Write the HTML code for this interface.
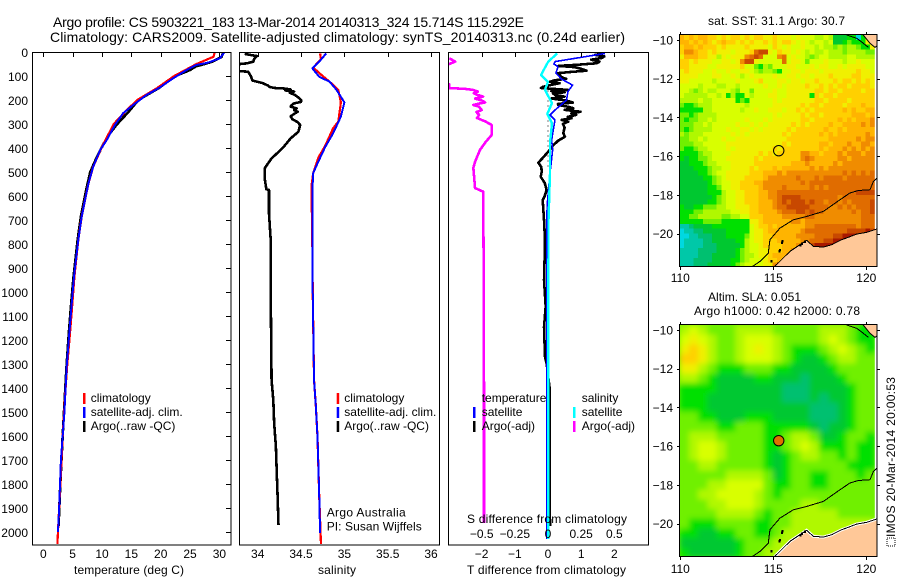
<!DOCTYPE html>
<html lang="en">
<head>
<meta charset="utf-8">
<title>Argo profile CS 5903221_183</title>
<style>
html,body{margin:0;padding:0;background:#fff;}
svg{display:block;}
text{font-family:"Liberation Sans",sans-serif;font-size:12px;fill:#000;}
.t14{font-size:14px;}
.frame{fill:none;stroke:#000;stroke-width:1;shape-rendering:crispEdges;}
</style>
</head>
<body>
<svg id="fig" xmlns="http://www.w3.org/2000/svg" width="900" height="580" viewBox="0 0 900 580">
<defs>
<clipPath id="c1"><rect x="33" y="52" width="198" height="493"/></clipPath>
<clipPath id="c2"><rect x="240" y="52" width="199" height="493"/></clipPath>
<clipPath id="c3"><rect x="449" y="52" width="199" height="493"/></clipPath>
<clipPath id="m1"><rect x="680" y="35" width="197" height="232"/></clipPath>
<clipPath id="m2"><rect x="680" y="325" width="197" height="232"/></clipPath>
<filter id="soft" x="-5%" y="-5%" width="110%" height="110%"><feGaussianBlur stdDeviation="3"/></filter>
</defs>
<g id="p1"></g>
<g id="p2"></g>
<g id="p3"></g>
<g id="m1g"></g>
<g id="m2g"></g>
<g id="labels">
<text class="t14" x="53" y="27" textLength="471">Argo profile: CS 5903221_183 13-Mar-2014 20140313_324 15.714S 115.292E</text>
<text class="t14" x="50" y="42" textLength="575">Climatology: CARS2009. Satellite-adjusted climatology: synTS_20140313.nc (0.24d earlier)</text>
<text x="74" y="574" textLength="110">temperature (deg C)</text>
<text x="318" y="574" textLength="38">salinity</text>
<text x="467" y="574" textLength="159">T difference from climatology</text>
<text x="467" y="523" textLength="160">S difference from climatology</text>
<text x="326.7" y="516.7" textLength="79">Argo Australia</text>
<text x="326.7" y="530.7" textLength="95">PI: Susan Wijffels</text>
<text x="708" y="25" textLength="137">sat. SST: 31.1 Argo: 30.7</text>
<text x="708" y="301" textLength="93">Altim. SLA: 0.051</text>
<text x="694" y="315" textLength="166">Argo h1000: 0.42 h2000: 0.78</text>
<text transform="translate(895,537) rotate(-90)" textLength="160">IMOS 20-Mar-2014 20:00:53</text>
<rect x="887" y="538" width="8" height="8" fill="none" stroke="#000" stroke-width="1" stroke-dasharray="1 1"/>
</g>
</svg>
<script>
/* ---------- profile data: depths (m) and values ---------- */
const depthTicks = [0,100,200,300,400,500,600,700,800,900,1000,1100,1200,1300,1400,1500,1600,1700,1800,1900,2000];
const tempTicks = [0,5,10,15,20,25,30];
const salTicks = ["34","34.5","35","35.5","36"];
const tDiffTicks = [-2,-1,0,1,2];
const sDiffTicks = ["-0.5","-0.25","0","0.25","0.5"];

const tempArgoDepth = [3,20,40,50,60,75,100,150,200,250,300,350,400,450,500,575,686,783,936,1047,1171,1312,1400,1600,1800,1975];
const tempArgo = [30.6,30.4,28.8,27.5,26,25,22.5,19.7,16.2,14.5,12.6,11,9.9,8.9,8,7.3,6.4,5.85,5.15,4.75,4.35,3.95,3.75,3.3,2.9,2.6];
const tempClimDepth = [0,20,30,50,75,100,150,200,250,300,400,478,547,617,686,783,936,1047,1171,1312,1400,1600,1800,2000,2050];
const tempClim = [29.2,29,28,26.1,24.2,22.3,19.4,16,13.9,12,9.9,8.5,7.7,7.1,6.54,5.96,5.3,4.95,4.55,4.05,3.8,3.3,2.9,2.5,2.4];
const tempSatDepth = [3,26,44,54,75,110,147,179,221,255,304,367,408,478,547,617,686,783,936,1047,1171,1312,1400,1500,1600,1700,1800,1900,2000];
const tempSat = [30.8,30.1,28.1,26.1,24.4,22.1,19.9,17.6,15.3,13.6,12.2,10.8,9.7,8.5,7.7,7.1,6.54,5.96,5.23,4.84,4.43,3.98,3.8,3.6,3.3,3.0,2.85,2.7,2.5];

const salArgoDepth = [8,17,28,40,47,54,60,72,78,82,100,119,130,140,146,150,152,156,160,165,170,179,190,200,208,214,222,228,235,242,249,258,268,280,292,304,332,360,395,420,443,485,526,572,575,671,783,1000,1367,1450,1547,1645,1754,1854,1971];
const salArgo = [33.85,33.99,33.96,33.95,33.88,33.7,33.7,33.7,33.7,33.89,33.92,33.94,34.06,34.12,34.14,34.2,34.3,34.38,34.32,34.42,34.37,34.43,34.47,34.5,34.5,34.42,34.39,34.38,34.45,34.42,34.46,34.42,34.38,34.4,34.46,34.49,34.47,34.38,34.3,34.23,34.16,34.08,34.08,34.1,34.13,34.13,34.15,34.15,34.16,34.18,34.19,34.21,34.22,34.23,34.24];
const salClimDepth = [6,30,65,100,124,158,210,290,318,390,440,505,560,783,1000,1367,1470,1603,1728,1853,2050];
const salClim = [34.72,34.73,34.64,34.75,34.83,34.93,34.96,34.93,34.87,34.78,34.7,34.64,34.62,34.63,34.635,34.65,34.67,34.69,34.7,34.71,34.73];
const salSatDepth = [6,36,68,103,124,158,210,269,339,395,464,505,588,783,1000,1367,1470,1603,1728,1853,2004];
const salSat = [34.79,34.72,34.63,34.71,34.83,34.91,35,34.96,34.87,34.78,34.69,34.64,34.63,34.63,34.635,34.65,34.67,34.69,34.7,34.71,34.72];

const tDiffArgoDepth = [6,12,18,25,32,40,47,53,58,63,70,78,83,88,95,105,112,118,124,130,137,145,150,154,158,163,168,172,179,186,194,202,211,216,221,228,234,241,249,256,262,270,276,283,290,300,315,338,353,370,390,415,440,461,480,499,520,545,575,600,617,700,783,850,950,1060,1146,1270,1300,1400,1700,1975];
const tDiffArgo = [1.66,1.42,1.7,1.62,1.3,1.55,1.47,0.9,0.31,0.8,1.0,1.16,0.7,0.31,0.35,0.41,0.55,0.2,0.06,0.35,0.1,-0.15,-0.21,0.2,0.6,0.1,0.5,0.15,0.21,0.5,0.1,0.55,0.75,0.3,0.31,0.6,0.76,0.5,0.98,0.7,0.85,0.6,0.71,0.41,0.61,0.45,0.5,0.46,0.51,0.3,0.15,0.01,-0.15,-0.29,-0.2,-0.19,-0.22,-0.1,-0.04,-0.1,-0.16,-0.12,-0.09,-0.1,-0.12,-0.07,-0.12,-0.09,-0.04,0.05,0.05,0.06];
const tDiffSatDepth = [6,40,50,61,88,113,138,165,200,242,262,283,367,408,505,629,700,1000,1500,2030];
const tDiffSat = [1.72,0.21,0.18,0.3,0.24,0.41,0.74,0.6,0.56,0.21,0.06,0.21,0.11,0.14,0.06,-0.02,-0.04,-0.04,-0.04,-0.04];
const sDiffSatDepth = [6,40,96,124,158,213,258,296,380,505,700,1000,1500,2030];
const sDiffSat = [0.07,0.002,-0.053,0,-0.023,0.03,-0.005,0.03,0.015,0.015,0.004,0.003,0.003,0.003];
const sDiffArgoDepth = [26,40,50,55,125,135,150,154,158,165,172,179,186,194,202,210,216,221,228,242,250,262,275,290,304,346,375,408,457,483,567,582,692,1000,1400,1962];
const sDiffArgo = [-0.744,-0.7,-0.744,-0.85,-0.85,-0.744,-0.744,-0.62,-0.566,-0.53,-0.56,-0.53,-0.49,-0.55,-0.5,-0.475,-0.53,-0.563,-0.52,-0.5,-0.54,-0.52,-0.535,-0.47,-0.425,-0.425,-0.47,-0.513,-0.55,-0.563,-0.55,-0.488,-0.488,-0.483,-0.483,-0.483];
const dotDepth = [160,180,200,220,240,260,280,300,320,340,360,380,400,420,440,460,480];
const dotDiff = [0,0,0,0,0,0,0,0,0,0,0,0,0,0,0,0,0];

/* ---------- map data: colour level per cell (row = north to south) ---------- */
const sstLevels = [
[11,10,11,10,11,11,10,10,9,10,9,10,10,9,10,9,10,10,9,9,10,9,9,9,8,9,8,8,8,7,7,8,7,4,4,4,5,5,1,5,9,9],
[11,11,10,11,10,11,10,9,10,11,10,10,9,10,9,10,9,9,10,9,10,9,10,10,9,8,9,8,7,8,8,7,8,4,4,5,6,5,5,5,9,9],
[10,11,11,10,11,10,10,10,9,10,9,9,9,9,10,9,9,9,9,8,10,9,8,9,8,8,9,8,8,7,8,7,7,6,7,6,7,7,6,5,5,9],
[10,12,12,11,10,10,9,10,9,9,9,8,9,9,9,10,13,14,14,9,8,10,9,9,8,9,8,7,8,7,7,8,7,7,7,6,7,7,7,7,6,6],
[9,11,11,11,10,10,9,9,7,9,8,9,9,9,12,13,14,13,8,8,8,12,13,8,9,8,8,7,6,7,8,8,7,7,7,7,8,8,7,7,7,7],
[10,10,9,10,9,9,9,8,8,9,9,8,9,12,14,14,9,8,8,8,8,8,13,8,9,9,8,6,8,8,8,9,8,8,8,7,8,8,9,8,8,8],
[10,10,9,9,9,9,8,8,9,9,9,9,9,10,8,8,6,5,7,6,8,8,8,9,9,8,8,8,9,8,9,9,8,8,9,8,9,9,9,9,8,8],
[9,10,9,9,9,8,8,9,8,8,9,8,8,9,9,8,7,6,7,7,6,5,8,8,9,9,8,9,9,9,8,9,9,9,9,9,9,9,10,9,9,8],
[9,9,9,9,8,8,8,9,9,8,8,9,8,7,8,9,8,8,8,8,9,8,8,9,9,8,9,9,8,9,9,9,10,9,9,9,9,10,10,9,9,9],
[9,9,8,8,8,8,8,7,8,8,8,8,9,8,8,8,9,10,8,8,8,9,9,8,9,9,8,9,9,10,9,9,9,10,9,10,10,9,10,9,10,9],
[8,8,8,8,7,8,8,8,7,7,8,8,7,8,8,8,8,8,9,8,8,9,8,9,9,9,9,10,9,9,10,9,10,9,10,10,9,10,10,10,10,9],
[8,8,7,6,7,8,7,7,8,8,8,7,6,8,8,6,8,8,8,8,9,8,8,9,9,9,9,9,9,10,10,9,10,10,9,10,10,10,10,9,10,10],
[8,7,7,7,7,7,8,8,7,8,5,7,5,5,8,7,8,8,8,9,9,8,8,9,9,9,9,9,5,10,9,10,10,9,10,10,10,10,10,10,10,10],
[7,7,7,7,8,7,7,8,8,8,8,8,5,6,5,8,8,8,8,8,9,8,9,9,9,9,9,9,9,10,10,9,10,10,10,10,9,10,10,10,10,10],
[6,5,5,6,7,7,7,8,8,8,8,8,8,8,7,8,8,8,8,8,9,9,9,9,9,9,10,9,10,10,9,10,10,10,10,9,10,10,10,11,10,10],
[5,5,5,5,5,7,7,8,8,8,8,8,8,7,8,8,9,8,8,9,9,9,8,9,9,10,9,10,9,10,10,10,10,10,10,11,10,11,10,10,11,11],
[6,6,5,6,7,7,7,7,8,8,8,8,8,8,8,8,8,8,8,8,9,8,9,9,9,9,10,9,10,10,9,10,10,10,10,10,10,11,11,11,10,11],
[6,5,6,6,7,7,8,7,8,8,8,8,8,8,9,8,8,8,9,8,9,9,9,9,9,9,10,10,9,10,10,10,10,10,11,10,11,10,11,11,11,12],
[6,6,6,7,7,8,7,8,8,8,8,8,9,8,8,9,8,9,8,9,9,9,9,9,10,9,10,9,10,10,10,10,11,10,10,11,11,11,11,12,11,12],
[6,5,6,7,7,7,7,8,8,8,9,8,8,9,9,8,9,8,9,9,9,9,9,10,9,10,10,10,10,10,10,11,10,10,11,10,11,11,11,11,11,11],
[7,6,7,7,7,8,8,8,8,8,8,9,8,9,8,9,9,9,9,9,9,9,10,9,10,10,10,10,10,10,11,10,11,10,11,11,11,11,11,11,12,11],
[6,6,7,7,8,7,8,8,8,9,8,8,9,9,9,9,9,9,9,9,9,9,9,10,10,10,10,10,10,10,10,10,11,11,11,11,11,11,12,11,12,12],
[6,6,6,7,7,8,8,8,8,8,9,9,9,9,9,9,9,9,9,9,9,9,10,9,10,10,10,10,10,10,11,11,10,11,11,11,12,11,11,12,12,11],
[6,5,5,6,7,7,8,8,8,8,9,8,9,9,9,9,9,9,9,9,10,9,10,10,10,10,10,10,10,10,11,10,11,11,11,12,11,12,11,12,11,12],
[5,5,5,5,6,7,7,8,8,8,8,9,9,9,9,9,9,10,9,10,9,10,10,10,10,10,12,12,11,11,10,11,11,11,12,11,12,12,12,11,12,12],
[5,4,5,5,6,6,7,8,8,8,9,9,9,9,9,9,10,9,10,10,10,10,10,10,10,10,12,13,12,11,11,11,11,11,12,12,11,12,12,12,12,12],
[4,4,5,5,5,6,7,7,8,8,8,9,9,9,9,9,10,10,10,10,10,10,10,10,11,11,11,12,11,11,11,11,11,12,11,12,12,12,12,12,12,12],
[4,4,4,5,5,5,6,7,7,8,8,9,9,9,9,10,9,10,10,10,11,10,11,11,11,11,11,11,12,11,12,11,12,12,12,12,12,12,12,12,12,12],
[4,4,4,4,5,5,6,7,8,8,9,9,9,9,9,10,10,10,11,11,11,12,11,12,12,12,12,12,12,12,12,12,12,12,12,13,12,13,12,13,12,13],
[4,4,4,4,4,5,5,6,7,8,9,9,9,9,10,10,10,10,11,12,12,12,12,12,12,13,12,12,12,13,12,13,13,13,13,12,13,13,13,13,13,13],
[4,4,4,4,4,4,5,6,7,8,8,9,9,10,10,10,11,11,12,12,12,12,12,12,12,12,13,12,13,13,13,13,13,13,13,13,13,13,13,13,13,13],
[4,4,4,4,4,4,5,5,6,8,8,9,9,10,10,10,10,11,12,12,12,12,13,12,12,12,12,12,13,12,13,12,13,13,13,13,13,13,13,13,13,13],
[4,4,4,4,4,4,5,5,5,7,8,8,9,9,10,10,10,11,11,12,12,13,13,13,13,13,13,13,13,13,13,13,13,13,13,13,13,13,14,14,14,14],
[4,4,4,4,4,4,4,5,6,7,8,8,9,9,10,10,10,11,11,12,12,13,14,14,14,14,13,13,13,13,13,13,13,13,12,13,13,13,13,13,13,13],
[4,4,4,4,4,4,5,5,6,7,8,8,9,9,10,10,10,11,11,11,12,13,14,13,14,14,14,13,14,13,13,12,13,13,12,13,12,13,13,13,13,14],
[5,4,4,5,5,6,6,6,7,7,8,8,9,9,9,10,10,11,11,11,12,13,13,14,14,14,14,14,13,13,13,13,12,12,13,12,13,12,13,13,13,14],
[5,5,5,6,6,7,7,7,7,7,7,8,8,9,9,10,10,11,11,11,11,12,13,13,13,14,14,13,14,13,13,12,12,12,12,12,12,13,12,13,13,14],
[5,5,6,6,7,7,7,7,7,6,6,7,7,8,8,10,10,10,11,11,11,11,12,12,12,12,12,13,13,12,12,12,12,12,12,12,12,12,12,13,13,13],
[5,5,5,5,5,6,6,6,6,5,5,5,5,5,5,9,9,10,11,11,11,11,11,11,12,12,11,12,12,12,12,12,12,12,12,12,12,12,12,13,13,13],
[2,2,3,4,4,4,4,5,5,5,5,5,5,5,5,8,9,10,10,11,10,11,11,11,11,11,11,12,12,13,13,13,13,13,13,13,13,13,12,13,13,13],
[1,2,2,3,3,4,4,4,4,4,5,5,5,5,5,8,9,9,10,11,11,11,11,11,11,11,12,13,13,13,13,13,13,13,13,13,14,14,14,14,15,14],
[1,1,2,2,3,3,3,4,4,4,5,5,5,5,6,8,9,9,10,10,11,11,11,11,11,12,12,12,12,13,13,13,13,14,14,15,15,15,14,15,15,9],
[1,2,2,2,2,3,3,4,4,4,4,4,5,5,7,8,9,9,10,10,10,11,11,11,11,11,12,12,13,13,13,14,14,15,15,15,15,9,9,9,9,9],
[1,2,2,2,2,3,3,3,4,4,4,4,4,5,7,8,8,9,10,10,10,10,11,11,11,12,12,14,14,15,15,15,15,15,9,9,9,9,9,9,9,9],
[2,2,2,2,3,3,3,3,4,4,4,4,5,6,7,8,8,9,9,10,10,10,11,11,12,13,14,15,15,15,9,9,9,9,9,9,9,9,9,9,9,9],
[2,2,2,2,3,3,3,4,4,4,4,4,5,6,7,7,8,9,9,10,11,11,11,12,13,14,15,9,9,9,9,9,9,9,9,9,9,9,9,9,9,9],
[2,2,2,3,3,3,3,4,4,4,4,5,5,6,7,8,8,8,9,10,10,11,13,15,16,9,9,9,9,9,9,9,9,9,9,9,9,9,9,9,9,9],
[2,2,2,3,3,3,4,4,4,4,4,5,6,7,8,8,8,8,9,9,12,16,16,16,9,9,9,9,9,9,9,9,9,9,9,9,9,9,9,9,9,9]
];
const slaLevels = [
[7,8,7,6,6,6,7,7,7,7,6,6,6,6,6,7,7,7,6,5,5],
[8,9,8,7,6,6,7,8,8,8,7,6,6,6,6,7,8,7,6,5,5],
[9,10,9,7,6,6,7,8,9,8,7,6,5,5,5,6,7,8,7,6,5],
[10,10,9,7,6,6,7,8,8,8,7,6,5,4,4,5,6,7,7,6,6],
[9,9,7,6,5,5,5,6,6,6,5,5,4,4,4,4,5,6,6,6,6],
[7,7,6,5,4,4,4,4,5,5,4,4,4,3,4,4,4,5,6,6,6],
[5,5,5,5,4,4,4,4,4,4,4,3,3,3,4,4,4,4,5,6,6],
[5,5,5,4,4,4,4,4,4,4,4,3,3,3,4,3,4,4,5,6,6],
[5,5,5,4,4,4,4,4,4,4,4,4,4,4,3,3,3,4,5,6,6],
[6,6,5,5,4,4,4,5,5,5,4,4,4,4,3,3,3,4,5,6,6],
[6,6,6,6,5,5,6,6,6,5,5,5,5,5,4,3,4,4,5,6,6],
[6,7,7,7,6,6,6,6,6,5,5,6,7,7,6,4,4,5,6,6,5],
[6,7,8,8,7,6,6,6,6,5,5,6,7,8,7,5,5,5,6,5,5],
[6,7,8,8,7,6,6,6,6,5,4,5,6,7,7,6,6,5,6,5,5],
[6,6,7,7,6,6,6,6,6,5,4,5,6,6,6,6,6,6,5,5,5],
[6,6,6,6,6,7,7,7,7,6,4,5,6,6,5,5,6,6,6,5,6],
[6,6,6,7,7,8,8,8,8,6,5,5,6,6,5,5,6,6,6,6,6],
[6,6,7,7,8,8,8,8,7,6,5,6,6,6,6,6,6,6,6,6,6],
[6,6,6,7,7,8,8,8,7,6,6,6,6,7,7,6,6,6,6,6,6],
[6,6,6,6,7,7,7,7,6,5,6,6,7,7,7,7,7,6,6,6,6],
[6,5,5,5,6,6,6,6,5,5,6,6,7,7,7,7,7,7,7,7,7],
[5,5,4,4,5,5,6,6,5,5,6,7,7,7,7,7,7,7,7,7,7],
[4,4,4,4,4,4,5,6,6,6,7,7,7,7,7,7,7,7,7,7,7],
[5,4,4,4,4,4,5,6,6,7,7,7,7,7,7,7,7,7,7,7,7]
];
const mapLonTicks = [110,115,120];
const mapLatTicks = [-10,-12,-14,-16,-18,-20];
const floatLon = [115.292];
const floatLat = [-15.714];
const coastSouthLon = [120.65,120.55,120.02,119.48,118.94,118.67,118.14,117.69,117.15,116.79,116.43,115.9,115.54,115.09,115.0];
const coastSouthLat = [-19.72,-19.76,-19.93,-20.02,-20.22,-20.31,-20.57,-20.69,-20.65,-20.34,-20.57,-20.91,-21.25,-21.68,-21.8];
const coastNorthLon = [119.8,120.2,120.47,120.65];
const coastNorthLat = [-9.7,-10.17,-10.38,-10.25];
const contourLon = [120.65,120.38,120.2,119.57,119.12,118.58,117.69,116.79,116.08,115.36,114.82,114.73,114.28,113.84];
const contourLat = [-17.05,-17.3,-17.73,-17.77,-17.9,-18.25,-18.85,-19.11,-19.28,-19.71,-20.31,-21.0,-21.43,-21.72];
const contourNorthLon = [118.94,119.48,119.84,120.11];
const contourNorthLat = [-9.74,-9.91,-10.17,-10.38];
const islandLon = [115.5,115.46,115.36,115.32,114.9,116.45,116.55,116.7];
const islandLat = [-20.38,-20.46,-20.84,-20.9,-21.42,-20.6,-20.52,-20.42];

/* ---------- drawing helpers ---------- */
const colourRamp = ['#ffffff','#00d8e0','#00c8a8','#00c070','#00c830','#00e000','#70f000','#b0f800','#d8ff00','#f0f000','#ffd000','#ffb400','#f08c00','#e06c00','#c84800','#a81800','#800000'];
const NS = 'http://www.w3.org/2000/svg';
function mk(parent, tag, attrs){
  const el = document.createElementNS(NS, tag);
  for (const k in attrs) el.setAttribute(k, attrs[k]);
  parent.appendChild(el);
  return el;
}
const depthY = d => 52 + 0.24 * d;
const tempX = v => 43.3 + 5.87 * v;
const salX = v => 257.7 + 86.67 * (v - 34);
const tDiffX = v => 548 + 33.2 * v;
const sDiffX = v => 548 + 132.6 * v;

function linePath(xs, ys){
  return xs.map((v, i) => (i ? 'L' : 'M') + v.toFixed(2) + ' ' + ys[i].toFixed(2)).join('');
}
function series(parent, name, clip, vals, depths, xf, colour, width){
  const g = mk(parent, 'path', {
    d: linePath(vals.map(xf), depths.map(depthY)),
    fill: 'none', stroke: colour, 'stroke-width': width, 'clip-path': 'url(#' + clip + ')',
    'stroke-linejoin': 'round', 'shape-rendering': 'crispEdges'
  });
  
  
  return g;
}
function label(parent, name, x, y, str, anchor){
  const t = mk(parent, 'text', {x: x, y: y, 'text-anchor': anchor || 'start'});
  t.textContent = str;
  
  
  return t;
}
function tick(parent, name, x1, y1, x2, y2){
  const l = mk(parent, 'line', {x1: x1, y1: y1, x2: x2, y2: y2, stroke: '#000', 'stroke-width': 1, 'shape-rendering': 'crispEdges'});
  
  
}
function frame(parent, name, x, y, w, h){
  const r = mk(parent, 'rect', {x: x, y: y, width: w, height: h, class: 'frame'});
  
  
}
function swatch(parent, name, x, y, colour){
  const r = mk(parent, 'rect', {x: x - 1, y: y, width: 2.5, height: 11, fill: colour});
  
  
}
const fmtMinus = s => String(s).replace('-', '\u2212');

/* ---------- panel 1: temperature ---------- */
const p1 = document.getElementById('p1');
series(p1, 'temperature-argo-line', 'c1', tempArgo, tempArgoDepth, tempX, '#000', 2.6);
series(p1, 'temperature-climatology-line', 'c1', tempClim, tempClimDepth, tempX, '#f00', 2.2);
series(p1, 'temperature-satellite-line', 'c1', tempSat, tempSatDepth, tempX, '#00f', 2);
frame(p1, 'temperature-plot-frame', 32.5, 52.5, 198.5, 492.5);
depthTicks.forEach(d => {
  tick(p1, 'depth-tick', 226, Math.round(depthY(d)) + 0.5, 231, Math.round(depthY(d)) + 0.5);
  label(p1, 'depth-tick-label', 28, depthY(d) + 5, d, 'end');
});
tempTicks.forEach(v => {
  tick(p1, 'temperature-tick', Math.round(tempX(v)) + 0.5, 52, Math.round(tempX(v)) + 0.5, 57);
  label(p1, 'temperature-tick-label', tempX(v), 558, v, 'middle');
});
swatch(p1, 'legend-swatch-climatology', 84, 393, '#f00');
swatch(p1, 'legend-swatch-satellite', 84, 407, '#00f');
swatch(p1, 'legend-swatch-argo', 84, 421, '#000');
label(p1, 'legend-climatology', 90.7, 402, 'climatology');
label(p1, 'legend-satellite-adj', 90.7, 416, 'satellite-adj. clim.');
label(p1, 'legend-argo', 90.7, 430, 'Argo(..raw -QC)');

/* ---------- panel 2: salinity ---------- */
const p2 = document.getElementById('p2');
series(p2, 'salinity-argo-line', 'c2', salArgo, salArgoDepth, salX, '#000', 2.6);
series(p2, 'salinity-climatology-line', 'c2', salClim, salClimDepth, salX, '#f00', 2.2);
series(p2, 'salinity-satellite-line', 'c2', salSat, salSatDepth, salX, '#00f', 2);
frame(p2, 'salinity-plot-frame', 239.5, 52.5, 200, 492.5);
salTicks.forEach(s => {
  const v = parseFloat(s);
  tick(p2, 'salinity-tick', Math.round(salX(v)) + 0.5, 52, Math.round(salX(v)) + 0.5, 57);
  label(p2, 'salinity-tick-label', salX(v), 558, s, 'middle');
});
swatch(p2, 'legend-swatch-climatology', 337.7, 393, '#f00');
swatch(p2, 'legend-swatch-satellite', 337.7, 407, '#00f');
swatch(p2, 'legend-swatch-argo', 337.7, 421, '#000');
label(p2, 'legend-climatology', 344.3, 402, 'climatology');
label(p2, 'legend-satellite-adj', 344.3, 416, 'satellite-adj. clim.');
label(p2, 'legend-argo', 344.3, 430, 'Argo(..raw -QC)');

/* ---------- panel 3: differences ---------- */
const p3 = document.getElementById('p3');
series(p3, 't-difference-argo-line', 'c3', tDiffArgo, tDiffArgoDepth, tDiffX, '#000', 2.6);
const dots = series(p3, 'climatology-zero-dots', 'c3', dotDiff, dotDepth, tDiffX, '#000', 1);
dots.setAttribute('stroke-dasharray', '1 4');
series(p3, 't-difference-satellite-line', 'c3', tDiffSat, tDiffSatDepth, tDiffX, '#00f', 1.6);
series(p3, 's-difference-argo-line', 'c3', sDiffArgo, sDiffArgoDepth, sDiffX, '#f0f', 2.6);
series(p3, 's-difference-satellite-line', 'c3', sDiffSat, sDiffSatDepth, sDiffX, '#0ff', 2.4);
frame(p3, 'difference-plot-frame', 448.5, 52.5, 200, 492.5);
tDiffTicks.forEach(v => {
  tick(p3, 't-difference-tick', Math.round(tDiffX(v)) + 0.5, 52, Math.round(tDiffX(v)) + 0.5, 57);
  label(p3, 't-difference-tick-label', tDiffX(v), 558, fmtMinus(v), 'middle');
});
sDiffTicks.forEach(s => {
  label(p3, 's-difference-tick-label', sDiffX(parseFloat(s)), 538, fmtMinus(s), 'middle');
});
swatch(p3, 'legend-swatch-t-satellite', 474, 407, '#00f');
swatch(p3, 'legend-swatch-t-argo', 474, 421, '#000');
swatch(p3, 'legend-swatch-s-satellite', 574, 407, '#0ff');
swatch(p3, 'legend-swatch-s-argo', 574, 421, '#f0f');
label(p3, 'legend-temperature-heading', 481.7, 402, 'temperature');
label(p3, 'legend-t-satellite', 481.7, 416, 'satellite');
label(p3, 'legend-t-argo', 481.7, 430, 'Argo(-adj)');
label(p3, 'legend-salinity-heading', 581.7, 402, 'salinity');
label(p3, 'legend-s-satellite', 581.7, 416, 'satellite');
label(p3, 'legend-s-argo', 581.7, 430, 'Argo(-adj)');

/* ---------- maps ---------- */
const lonX = lon => 680.3 + 18.6 * (lon - 110);
function drawMap(host, opts){
  const latY = lat => opts.y10 + 19.37 * (-10 - lat);
  const clip = mk(host, 'g', {'clip-path': 'url(#' + opts.clip + ')'});
  
  
  const under = mk(clip, 'rect', {x: 680, y: opts.top, width: 197, height: 232, fill: opts.blur ? '#70f000' : '#d8ff00'});
  
  
  const cellGroup = mk(clip, 'g', opts.blur ? {filter: 'url(#soft)'} : {});
  
  
  const cols = opts.levels[0].length;
  const cw = opts.cellDeg * 18.6, ch = opts.cellDeg * 19.37;
  opts.levels.forEach((row, r) => {
    row.forEach((lv, c) => {
      const cell = mk(cellGroup, 'rect', {
        x: (679.5 + c * cw).toFixed(2), y: (opts.top + r * ch).toFixed(2),
        width: (cw + 0.4).toFixed(2), height: (ch + 0.4).toFixed(2),
        fill: colourRamp[lv], 'shape-rendering': 'crispEdges'
      });
      
      
    });
  });
  const strip = mk(clip, 'rect', {x: 679.5 + cols * opts.cellDeg * 18.6, y: opts.top, width: 4, height: 232, fill: '#fff'});
  
  
  const landS = coastSouthLon.map((v, i) => lonX(v).toFixed(1) + ',' + latY(coastSouthLat[i]).toFixed(1));
  landS.push(lonX(120.65).toFixed(1) + ',' + latY(-21.85).toFixed(1));
  const south = mk(clip, 'polygon', {points: landS.join(' '), fill: '#ffc898', stroke: opts.halo, 'stroke-width': 3});
  
  
  const coastLine = mk(clip, 'path', {d: linePath(coastSouthLon.map(lonX), coastSouthLat.map(latY)), fill: 'none', stroke: '#000', 'stroke-width': 1, 'shape-rendering': 'crispEdges'});
  
  
  const landN = coastNorthLon.map((v, i) => lonX(v).toFixed(1) + ',' + latY(coastNorthLat[i]).toFixed(1));
  landN.push(lonX(120.65).toFixed(1) + ',' + latY(-9.7).toFixed(1));
  const north = mk(clip, 'polygon', {points: landN.join(' '), fill: '#ffc898', stroke: '#000', 'stroke-width': 1});
  
  
  const contour = mk(clip, 'path', {d: linePath(contourLon.map(lonX), contourLat.map(latY)), fill: 'none', stroke: '#000', 'stroke-width': 1, 'shape-rendering': 'crispEdges'});
  
  
  const contourN = mk(clip, 'path', {d: linePath(contourNorthLon.map(lonX), contourNorthLat.map(latY)), fill: 'none', stroke: '#000', 'stroke-width': 1, 'shape-rendering': 'crispEdges'});
  
  
  islandLon.forEach((lon, i) => {
    const isl = mk(clip, 'rect', {x: lonX(lon) - 1, y: latY(islandLat[i]) - 1.2, width: 2, height: 2.4, fill: '#000', 'shape-rendering': 'crispEdges'});
    
    
  });
  const marker = mk(host, 'circle', {cx: lonX(floatLon[0]), cy: latY(floatLat[0]), r: 5.2, fill: opts.markerFill, stroke: '#000', 'stroke-width': 1});
  
  
  frame(host, opts.prefix + '-map-frame', 679.5, opts.top - 0.5, 197.5, 232);
  mapLonTicks.forEach(v => {
    const x = Math.round(lonX(v)) + 0.5;
    tick(host, opts.prefix + '-lon-tick', x, opts.top - 3, x, opts.top);
    tick(host, opts.prefix + '-lon-tick', x, opts.top + 232, x, opts.top + 235);
    label(host, opts.prefix + '-lon-tick-label', lonX(v), opts.labelY, v, 'middle');
  });
  mapLatTicks.forEach(v => {
    const y = Math.round(latY(v)) + 0.5;
    tick(host, opts.prefix + '-lat-tick', 677, y, 680, y);
    tick(host, opts.prefix + '-lat-tick', 877, y, 880, y);
    label(host, opts.prefix + '-lat-tick-label', 673, latY(v) + 4.5, fmtMinus(v), 'end');
  });
}
drawMap(document.getElementById('m1g'), {prefix: 'sst', clip: 'm1', y10: 40, top: 35, levels: sstLevels, cellDeg: 0.25, blur: false, halo: 'none', markerFill: 'none', labelY: 282});
drawMap(document.getElementById('m2g'), {prefix: 'sla', clip: 'm2', y10: 330, top: 325, levels: slaLevels, cellDeg: 0.5, blur: true, halo: '#fff', markerFill: '#e07000', labelY: 573});
</script>
</body>
</html>
